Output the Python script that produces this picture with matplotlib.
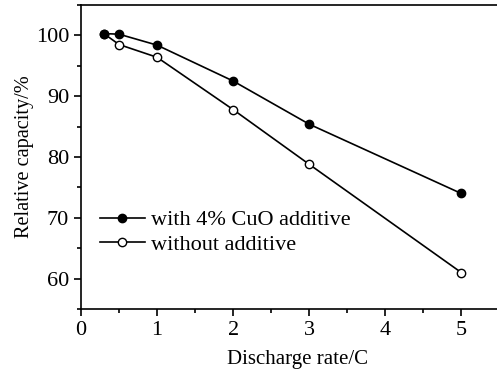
import matplotlib
matplotlib.use('Agg')
import matplotlib.pyplot as plt
from matplotlib.ticker import MultipleLocator

plt.rcParams['font.family'] = ['Liberation Serif', 'DejaVu Serif']

rate_cuo = [0.3, 0.5, 1, 2, 3, 5]
cap_cuo = [100.3, 100.2, 98.4, 92.5, 85.4, 74.0]
rate_none = [0.3, 0.5, 1, 2, 3, 5]
cap_none = [100.3, 98.5, 96.4, 87.8, 78.8, 61.0]

fig = plt.figure(figsize=(4.97, 3.78), dpi=100)
ax = fig.add_axes([81/497, 1-309/378, 416/497, 304/378])

ax.plot(rate_cuo, cap_cuo, '-o', color='black', lw=1.2, ms=6,
        mfc='black', label='with 4% CuO additive', zorder=3)
ax.plot(rate_none, cap_none, '-o', color='black', lw=1.2, ms=6,
        mfc='white', label='without additive', zorder=2)

ax.set_xlim(0, 5.47)
ax.set_ylim(55, 105)
ax.xaxis.set_major_locator(MultipleLocator(1))
ax.xaxis.set_minor_locator(MultipleLocator(0.5))
ax.yaxis.set_major_locator(MultipleLocator(10))
ax.yaxis.set_minor_locator(MultipleLocator(5))
ax.tick_params(which='both', direction='out', labelsize=16, width=1.2)
ax.tick_params(which='major', length=5)
ax.tick_params(which='minor', length=3)
for s in ax.spines.values():
    s.set_linewidth(1.2)
ax.spines['right'].set_visible(False)

ax.set_xlabel('Discharge rate/C', fontsize=15)
ax.set_ylabel('Relative capacity/%', fontsize=14.6, labelpad=1)
ax.xaxis.set_label_coords(0.52, -0.135)

ax.legend(loc='center left', bbox_to_anchor=(0.046, 0.252), frameon=False,
          fontsize=16, handlelength=2.0, handletextpad=0.3, labelspacing=0.18,
          borderpad=0, borderaxespad=0)

fig.savefig('out.png', dpi=100)
